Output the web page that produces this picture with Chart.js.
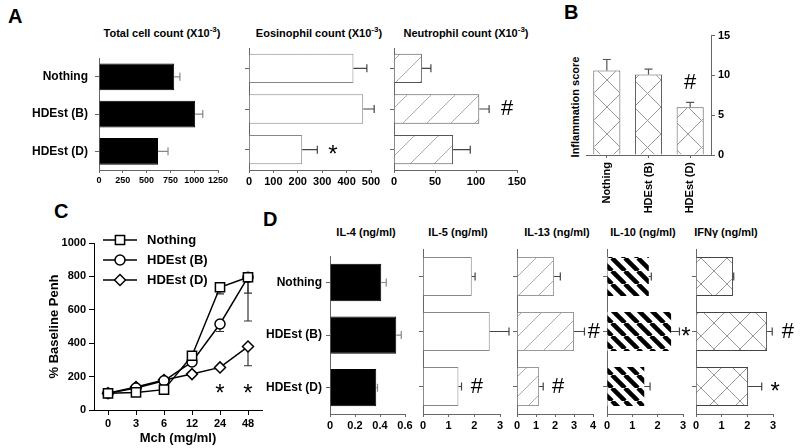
<!DOCTYPE html>
<html>
<head>
<meta charset="utf-8">
<script src="https://cdn.jsdelivr.net/npm/chart.js@4.4.1/dist/chart.umd.min.js"></script>
<style>
html, body { margin: 0; padding: 0; background: #fff; }
#fig { position: relative; width: 800px; height: 448px; overflow: hidden; font-family: "Liberation Sans", Arial, sans-serif; color: #000; }
#fig canvas { position: absolute; }
.t { position: absolute; font-weight: bold; font-size: 11px; white-space: nowrap; transform: translateX(-50%); }
.p { position: absolute; font-weight: bold; font-size: 20px; }
.rot { position: absolute; font-weight: bold; font-size: 11px; white-space: nowrap; transform: translate(-50%, -50%) rotate(-90deg); }
sup { font-size: 8px; line-height: 0; }
</style>
</head>
<body>
<div id="fig">
  <div class="p" style="left:8px;top:5px">A</div>
  <div class="p" style="left:564px;top:1px">B</div>
  <div class="p" style="left:54px;top:200px">C</div>
  <div class="p" style="left:263px;top:208px">D</div>

  <div class="t" style="left:162px;top:27px">Total cell count (X10<sup>-3</sup>)</div>
  <div class="t" style="left:319px;top:27px">Eosinophil count (X10<sup>-3</sup>)</div>
  <div class="t" style="left:466px;top:27px">Neutrophil count (X10<sup>-3</sup>)</div>
  <div class="rot" style="left:575px;top:107px">Inflammation score</div>

  <div class="t" style="left:366px;top:226px">IL-4 (ng/ml)</div>
  <div class="t" style="left:458px;top:226px">IL-5 (ng/ml)</div>
  <div class="t" style="left:557px;top:226px">IL-13 (ng/ml)</div>
  <div class="t" style="left:643px;top:226px">IL-10 (ng/ml)</div>
  <div class="t" style="left:726px;top:226px">IFNγ (ng/ml)</div>
</div>
<script>
// groups shared by every bar panel
const groups = ['Nothing', 'HDEst (B)', 'HDEst (D)'];

// panel A
const totalCells = [790, 1010, 620];
const totalErr = [60, 80, 105];
const eosCells = [428, 468, 218];
const eosErr = [55, 45, 62];
const neuCells = [34, 104, 72];
const neuErr = [11, 12, 21];

// panel B
const inflamScore = [10.6, 10.1, 6.0];
const inflamErr = [1.4, 0.7, 0.6];

// panel C
const mchDoses = ['0', '3', '6', '12', '24', '48'];
const penhNothing = [100, 105, 122, 325, 735, 795];
const penhHDEstB = [100, 132, 175, 288, 515, 795];
const penhHDEstD = [100, 138, 180, 215, 255, 380];
const penhNothingHi = [null, null, null, null, null, 818];
const penhNothingLo = [null, null, null, null, 695, 700];
const penhHDEstBLo = [null, null, null, null, 470, 533];
const penhHDEstDLo = [null, null, null, null, null, 265];

// panel D
const il4 = [0.41, 0.53, 0.37];
const il4Err = [0.04, 0.04, 0.01];
const il5 = [1.9, 2.6, 1.38];
const il5Err = [0.13, 0.75, 0.12];
const il13 = [1.95, 3.0, 1.16];
const il13Err = [0.33, 0.55, 0.22];
const il10 = [1.65, 2.53, 1.47];
const il10Err = [0.1, 0.33, 0.23];
const ifng = [1.44, 2.77, 2.03];
const ifngErr = [0.03, 0.2, 0.53];

Chart.defaults.font.family = '"Liberation Sans", Arial, sans-serif';
Chart.defaults.font.size = 11;
Chart.defaults.font.weight = 'bold';
Chart.defaults.color = '#000';
Chart.defaults.animation = false;
Chart.defaults.responsive = false;
Chart.defaults.plugins.legend.display = false;
Chart.defaults.plugins.tooltip.enabled = false;

const fig = document.getElementById('fig');
const plain = v => String(+(+v).toFixed(2));

function makeCanvas(left, top, w, h) {
    const c = document.createElement('canvas');
    c.width = w; c.height = h;
    c.style.left = left + 'px'; c.style.top = top + 'px';
    c.style.width = w + 'px'; c.style.height = h + 'px';
    fig.appendChild(c);
    return c;
}

function hatch(size, dirs, color, lw) {
    const c = document.createElement('canvas');
    c.width = c.height = size;
    const g = c.getContext('2d');
    g.fillStyle = '#fff';
    g.fillRect(0, 0, size, size);
    g.strokeStyle = color;
    g.lineWidth = lw;
    for (const d of dirs) for (const o of [-size, 0, size]) {
        g.beginPath();
        if (d === '/') { g.moveTo(o, size); g.lineTo(o + size, 0); }
        else { g.moveTo(o, 0); g.lineTo(o + size, size); }
        g.stroke();
    }
    return g.createPattern(c, 'repeat');
}

const errorBars = {
    id: 'errorBars',
    afterDatasetsDraw(chart) {
        const ds = chart.data.datasets[0];
        if (!ds.err) return;
        const g = chart.ctx, hor = chart.options.indexAxis === 'y';
        const vs = hor ? chart.scales.x : chart.scales.y;
        g.save();
        g.strokeStyle = ds.errColor || '#444';
        g.lineWidth = 1.2;
        chart.getDatasetMeta(0).data.forEach((el, i) => {
            const a = vs.getPixelForValue(ds.data[i]), b = vs.getPixelForValue(ds.data[i] + ds.err[i]);
            g.beginPath();
            if (hor) { g.moveTo(a, el.y); g.lineTo(b, el.y); g.moveTo(b, el.y - 4); g.lineTo(b, el.y + 4); }
            else { g.moveTo(el.x, a); g.lineTo(el.x, b); g.moveTo(el.x - 4, b); g.lineTo(el.x + 4, b); }
            g.stroke();
        });
        g.restore();
    }
};

// significance marks (* and #) placed in data space
const marks = {
    id: 'marks',
    afterDatasetsDraw(chart) {
        const ms = chart.data.datasets[0].marks;
        if (!ms) return;
        const g = chart.ctx, hor = chart.options.indexAxis === 'y';
        const vs = hor ? chart.scales.x : chart.scales.y;
        const cs = hor ? chart.scales.y : chart.scales.x;
        g.save();
        g.fillStyle = '#000';
        g.textAlign = 'center';
        g.textBaseline = 'middle';
        ms.forEach(m => {
            const star = m.t === '*';
            g.font = star ? '24px "Liberation Sans"' : '22px "Liberation Sans"';
            const a = cs.getPixelForValue(m.i), b = vs.getPixelForValue(m.v);
            const dy = star ? 6 : 0;
            if (hor) g.fillText(m.t, b, a + dy); else g.fillText(m.t, a, b + dy);
        });
        g.restore();
    }
};

function hbar(L, T, R, B, cfg) {
    const wy = cfg.wy || 8, hx = 20, pt = 4, pr = 28;
    const cv = makeCanvas(L - wy, T - pt, R - L + wy + pr, B - T + pt + hx);
    return new Chart(cv, {
        type: 'bar',
        data: {
            labels: groups,
            datasets: [{
                data: cfg.data, err: cfg.err, errColor: cfg.errColor, marks: cfg.marks,
                backgroundColor: cfg.fill, borderColor: cfg.border || '#000', borderWidth: cfg.border ? 1 : 0,
                barPercentage: cfg.bp || 0.72, categoryPercentage: 1
            }]
        },
        options: {
            indexAxis: 'y',
            layout: { padding: { top: pt, right: pr, left: 0, bottom: 0 } },
            scales: {
                x: {
                    min: 0, max: cfg.max,
                    ticks: { stepSize: cfg.step, padding: 2, maxRotation: 0, autoSkip: false, callback: plain, font: { size: cfg.fs || 11 } },
                    grid: { drawOnChartArea: false, tickLength: 3, color: '#666' },
                    border: { color: '#666' },
                    afterFit: s => { s.height = hx; }
                },
                y: {
                    ticks: { display: !!cfg.wy, font: { size: 12 }, padding: cfg.lp || 6 },
                    grid: { drawOnChartArea: false, offset: false, tickLength: 4, color: '#666' },
                    border: { color: '#666' },
                    afterFit: s => { s.width = wy; }
                }
            }
        },
        plugins: [errorBars, marks]
    });
}

// ---- A ----
hbar(99, 48, 218, 170, { wy: 99, lp: 7, fs: 9, data: totalCells, err: totalErr, max: 1250, step: 250, fill: '#000', border: '#000', errColor: '#888' });
hbar(249, 48, 371, 170, { data: eosCells, err: eosErr, max: 500, step: 100, fill: '#fff', border: '#888', marks: [{ i: 2, v: 344, t: '*' }] });
hbar(394, 48, 517, 170, { data: neuCells, err: neuErr, max: 150, step: 50, fill: hatch(24, ['/'], '#aaa', 1), border: '#555', marks: [{ i: 1, v: 138, t: '#' }] });

// ---- B ----
(() => {
    const L = 586, T = 34, R = 711, B = 155, pl = 6, pt = 8, wr = 30, hx = 60;
    const cv = makeCanvas(L - pl, T - pt, R - L + pl + wr, B - T + pt + hx);
    new Chart(cv, {
        type: 'bar',
        data: {
            labels: groups,
            datasets: [{
                data: inflamScore, err: inflamErr, errColor: '#555', marks: [{ i: 2, v: 9, t: '#' }],
                backgroundColor: hatch(27, ['/', '\\'], '#999', 1), borderColor: '#555', borderWidth: 1,
                barPercentage: 0.65, categoryPercentage: 1
            }]
        },
        options: {
            layout: { padding: { left: pl, top: pt, right: 0, bottom: 0 } },
            scales: {
                x: {
                    ticks: { minRotation: 90, maxRotation: 90, padding: 4 },
                    grid: { drawOnChartArea: false, offset: false, tickLength: 3, color: '#666' },
                    border: { color: '#666' },
                    afterFit: s => { s.height = hx; }
                },
                y: {
                    position: 'right', min: 0, max: 15,
                    ticks: { stepSize: 5, padding: 3, callback: plain },
                    grid: { drawOnChartArea: false, tickLength: 4, color: '#666' },
                    border: { color: '#666' },
                    afterFit: s => { s.width = wr; }
                }
            }
        },
        plugins: [errorBars, marks]
    });
})();

// ---- C ----
const rangeBars = {
    id: 'rangeBars',
    beforeDatasetsDraw(chart) {
        const g = chart.ctx, ys = chart.scales.y;
        g.save();
        g.strokeStyle = '#333';
        g.lineWidth = 1.2;
        chart.data.datasets.forEach((ds, k) => {
            const meta = chart.getDatasetMeta(k);
            [ds.errHi, ds.errLo].forEach(arr => {
                if (!arr) return;
                arr.forEach((t, i) => {
                    if (t == null) return;
                    const x = meta.data[i].x, a = ys.getPixelForValue(ds.data[i]), b = ys.getPixelForValue(t);
                    g.beginPath();
                    g.moveTo(x, a); g.lineTo(x, b);
                    g.moveTo(x - 4, b); g.lineTo(x + 4, b);
                    g.stroke();
                });
            });
        });
        g.restore();
    }
};

const cLegend = {
    id: 'cLegend',
    afterDraw(chart) {
        const g = chart.ctx, a = chart.chartArea;
        g.save();
        chart.data.datasets.forEach((ds, k) => {
            const y = a.top - 3 + k * 20;
            g.strokeStyle = '#000';
            g.lineWidth = 1.5;
            g.beginPath(); g.moveTo(a.left + 9, y); g.lineTo(a.left + 43, y); g.stroke();
            g.fillStyle = '#fff';
            Chart.helpers.drawPoint(g, { pointStyle: ds.pointStyle, radius: ds.pointRadius, borderWidth: 1.5, rotation: 0 }, a.left + 26, y);
            g.fillStyle = '#000';
            g.font = 'bold 13px "Liberation Sans"';
            g.textBaseline = 'middle';
            g.fillText(ds.label, a.left + 53, y);
        });
        g.restore();
    }
};

(() => {
    const L = 94, T = 243, R = 262, B = 410, wy = 47, pt = 10, pr = 10, hx = 38;
    const cv = makeCanvas(L - wy, T - pt, R - L + wy + pr, B - T + pt + hx);
    const line = (label, data, style, r, extra) => Object.assign({
        label, data, pointStyle: style, pointRadius: r,
        borderColor: '#000', borderWidth: 1.5,
        pointBackgroundColor: '#fff', pointBorderColor: '#000', pointBorderWidth: 1.5
    }, extra);
    new Chart(cv, {
        type: 'line',
        data: {
            labels: mchDoses,
            datasets: [
                line('Nothing', penhNothing, 'rect', 6.5, { errHi: penhNothingHi, errLo: penhNothingLo, marks: [{ i: 4, v: 130, t: '*' }, { i: 5, v: 130, t: '*' }] }),
                line('HDEst (B)', penhHDEstB, 'circle', 5, { errLo: penhHDEstBLo }),
                line('HDEst (D)', penhHDEstD, 'rectRot', 5.5, { errLo: penhHDEstDLo })
            ]
        },
        options: {
            layout: { padding: { top: pt, right: pr, left: 0, bottom: 0 } },
            scales: {
                x: {
                    offset: true,
                    ticks: { padding: 2 },
                    grid: { drawOnChartArea: false, offset: false, tickLength: 5, color: '#000' },
                    border: { color: '#000' },
                    title: { display: true, text: 'Mch (mg/ml)', font: { size: 13, weight: 'bold' }, padding: { top: 0, bottom: 2 } },
                    afterFit: s => { s.height = hx; }
                },
                y: {
                    min: 0, max: 1000,
                    ticks: { stepSize: 200, padding: 3, callback: plain },
                    grid: { drawOnChartArea: false, tickLength: 5, color: '#000' },
                    border: { color: '#000' },
                    title: { display: true, text: '% Baseline Penh', font: { size: 13, weight: 'bold' }, padding: { top: 0, bottom: 2 } },
                    afterFit: s => { s.width = wy; }
                }
            }
        },
        plugins: [rangeBars, marks, cLegend]
    });
})();

// ---- D ----
const dT = 249, dB = 414;
hbar(330, dT, 405, dB, { wy: 80, lp: 4, bp: 0.71, data: il4, err: il4Err, max: 0.6, step: 0.2, fill: '#000', border: '#000', errColor: '#888' });
hbar(423, dT, 500, dB, { bp: 0.71, data: il5, err: il5Err, max: 3, step: 1, fill: '#fff', border: '#888', marks: [{ i: 2, v: 2.1, t: '#' }] });
hbar(517, dT, 593, dB, { bp: 0.71, data: il13, err: il13Err, max: 4, step: 1, fill: hatch(20, ['/'], '#aaa', 1), border: '#999', marks: [{ i: 1, v: 4.05, t: '#' }, { i: 2, v: 2.16, t: '#' }] });
hbar(607, dT, 683, dB, { bp: 0.71, data: il10, err: il10Err, max: 3, step: 1, fill: hatch(13, ['\\'], '#000', 4.5), border: null, marks: [{ i: 1, v: 3.12, t: '*' }] });
hbar(696, dT, 773, dB, { bp: 0.71, data: ifng, err: ifngErr, max: 3, step: 1, fill: hatch(26, ['/', '\\'], '#999', 1), border: '#444', marks: [{ i: 1, v: 3.58, t: '#' }, { i: 2, v: 3.08, t: '*' }] });
</script>
</body>
</html>
